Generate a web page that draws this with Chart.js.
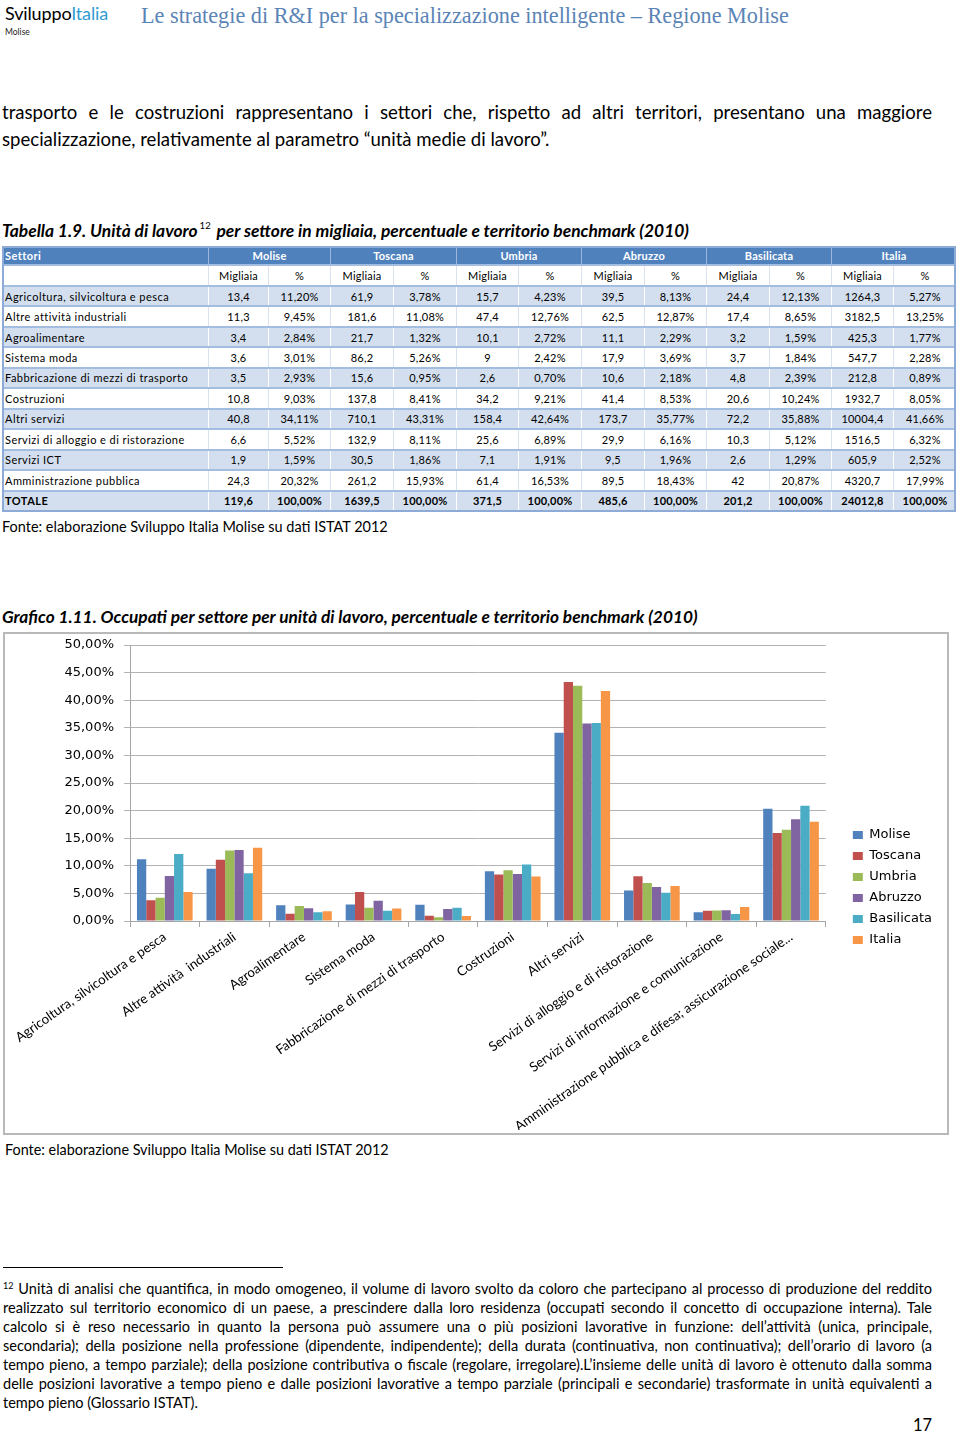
<!DOCTYPE html>
<html><head><meta charset="utf-8">
<script src="https://cdn.jsdelivr.net/npm/chart.js@4.4.1/dist/chart.umd.min.js"></script>
<style>
html,body{margin:0;padding:0;background:#fff;}
body{width:960px;height:1435px;position:relative;overflow:hidden;font-family:Lato,"Liberation Sans",sans-serif;color:#000;}
.abs{position:absolute;white-space:nowrap;}
.ib{display:inline-block;white-space:nowrap;}
.line{position:absolute;white-space:nowrap;overflow:hidden;}
.j{text-align:justify;text-align-last:justify;}
#tbl{position:absolute;left:2px;top:246px;width:954px;height:266px;font-family:Lato,sans-serif;font-size:11px;}
#tblBorder{position:absolute;left:2px;top:246px;width:954px;height:266px;box-sizing:border-box;border:2px solid #8eabd8;pointer-events:none;}
.row{position:absolute;left:0;width:954px;box-sizing:border-box;border-bottom:2px solid #a3bde0;}
.cell{position:absolute;top:0;height:100%;box-sizing:border-box;display:flex;align-items:center;justify-content:center;letter-spacing:0.2px;}
.cell.lft{justify-content:flex-start;padding-left:3px;letter-spacing:0.45px;}
.row.hd{background:#4f81bd;color:#fff;font-weight:bold;}
.row.hd .cell{border-left:1px solid #9db8e0;}
.row.bl{background:#d3dfee;}
.row.bl .cell{border-left:1px solid #fff;}
.row.wh{background:#fff;}
.row.wh .cell{border-left:1px solid #d9e2ee;}
.row.tot{font-weight:bold;}
.row .cell:first-child{border-left:none;}
#chartBox{position:absolute;left:3px;top:632px;width:946px;height:503px;box-sizing:border-box;border:2px solid #b9b9b9;}
#chart{position:absolute;left:4px;top:633px;}
</style>
</head>
<body>
<div class="abs" style="left:5px;top:3px;line-height:20px;"><span id="logo" class="ib" style="font-size:18px;"><span>Sviluppo</span><span style="color:#2f9bd2">Italia</span></span></div>
<div class="abs" style="left:5px;top:26px;line-height:12px;font-size:8.5px;color:#222;">Molise</div>
<div class="abs" style="left:141px;top:3px;line-height:26px;"><span id="hdrTitle" class="ib" style="font-family:'Liberation Serif',serif;font-size:21px;color:#5a84b5;">Le strategie di R&amp;I per la specializzazione intelligente – Regione Molise</span></div>

<div id="body1" class="line j" style="left:2px;top:100px;width:930px;line-height:24px;">trasporto e le costruzioni rappresentano i settori che, rispetto ad altri territori, presentano una maggiore</div>
<div class="abs" style="left:2px;top:127px;line-height:24px;"><span id="body2" class="ib" style="font-size:18px;">specializzazione, relativamente al parametro “unità medie di lavoro”.</span></div>

<div class="abs" style="left:2px;top:219px;line-height:24px;"><span id="tabTitle" class="ib" style="font-size:17px;font-weight:bold;font-style:italic;">Tabella 1.9. Unità di lavoro<span style="font-size:0.55em;font-style:normal;font-weight:normal;position:relative;top:-0.85em;margin:0 2px;">12</span> per settore in migliaia, percentuale e territorio benchmark (2010)</span></div>

<div id="tbl"></div>
<div id="tblBorder"></div>

<div class="abs" style="left:2px;top:515px;line-height:22px;"><span id="fonte1" class="ib" style="font-size:15px;">Fonte: elaborazione Sviluppo Italia Molise su dati ISTAT 2012</span></div>

<div class="abs" style="left:2px;top:605px;line-height:24px;"><span id="grafTitle" class="ib" style="font-size:17px;font-weight:bold;font-style:italic;">Grafico 1.11. Occupati per settore per unità di lavoro, percentuale e territorio benchmark (2010)</span></div>

<div id="chartBox"></div>
<canvas id="chart" width="944" height="501"></canvas>

<div class="abs" style="left:5px;top:1138px;line-height:22px;"><span id="fonte2" class="ib" style="font-size:15px;">Fonte: elaborazione Sviluppo Italia Molise su dati ISTAT 2012</span></div>

<div style="position:absolute;left:3px;top:1267px;width:280px;height:1px;background:#000;"></div>

<div id="fn" style="position:absolute;left:0;top:0;font-size:15px;">
<div class="line j fnl" style="left:3px;top:1279px;width:929px;line-height:20px;"><span style="font-size:0.62em;position:relative;top:-0.6em;">12</span> Unità di analisi che quantifica, in modo omogeneo, il volume di lavoro svolto da coloro che partecipano al processo di produzione del reddito</div>
<div class="line j fnl" style="left:3px;top:1298px;width:929px;line-height:20px;">realizzato sul territorio economico di un paese, a prescindere dalla loro residenza (occupati secondo il concetto di occupazione interna). Tale</div>
<div class="line j fnl" style="left:3px;top:1317px;width:929px;line-height:20px;">calcolo si è reso necessario in quanto la persona può assumere una o più posizioni lavorative in funzione: dell’attività (unica, principale,</div>
<div class="line j fnl" style="left:3px;top:1336px;width:929px;line-height:20px;">secondaria); della posizione nella professione (dipendente, indipendente); della durata (continuativa, non continuativa); dell’orario di lavoro (a</div>
<div class="line j fnl" style="left:3px;top:1355px;width:929px;line-height:20px;">tempo pieno, a tempo parziale); della posizione contributiva o fiscale (regolare, irregolare).L’insieme delle unità di lavoro è ottenuto dalla somma</div>
<div class="line j fnl" style="left:3px;top:1374px;width:929px;line-height:20px;">delle posizioni lavorative a tempo pieno e dalle posizioni lavorative a tempo parziale (principali e secondarie) trasformate in unità equivalenti a</div>
<div class="abs" style="left:3px;top:1393px;line-height:20px;"><span id="fnLast" class="ib">tempo pieno (Glossario ISTAT).</span></div>
</div>

<div class="abs" style="left:913px;top:1413px;line-height:24px;"><span id="pageNo" class="ib" style="font-size:18px;">17</span></div>

<script>
// ---------- DATA ----------
const tableRows = ["Agricoltura, silvicoltura e pesca","Altre attività industriali","Agroalimentare","Sistema moda","Fabbricazione di mezzi di trasporto","Costruzioni","Altri servizi","Servizi di alloggio e di ristorazione","Servizi ICT","Amministrazione pubblica"];
const categories = ["Agricoltura, silvicoltura e pesca","Altre attività  industriali","Agroalimentare","Sistema moda","Fabbricazione di mezzi di trasporto","Costruzioni","Altri servizi","Servizi di alloggio e di ristorazione","Servizi di informazione e comunicazione","Amministrazione pubblica e difesa; assicurazione sociale..."];
const regions = ["Molise","Toscana","Umbria","Abruzzo","Basilicata","Italia"];

const moliseK     = [13.4, 11.3, 3.4, 3.6, 3.5, 10.8, 40.8, 6.6, 1.9, 24.3];
const toscanaK    = [61.9, 181.6, 21.7, 86.2, 15.6, 137.8, 710.1, 132.9, 30.5, 261.2];
const umbriaK     = [15.7, 47.4, 10.1, 9, 2.6, 34.2, 158.4, 25.6, 7.1, 61.4];
const abruzzoK    = [39.5, 62.5, 11.1, 17.9, 10.6, 41.4, 173.7, 29.9, 9.5, 89.5];
const basilicataK = [24.4, 17.4, 3.2, 3.7, 4.8, 20.6, 72.2, 10.3, 2.6, 42];
const italiaK     = [1264.3, 3182.5, 425.3, 547.7, 212.8, 1932.7, 10004.4, 1516.5, 605.9, 4320.7];

const molisePct     = [11.20, 9.45, 2.84, 3.01, 2.93, 9.03, 34.11, 5.52, 1.59, 20.32];
const toscanaPct    = [3.78, 11.08, 1.32, 5.26, 0.95, 8.41, 43.31, 8.11, 1.86, 15.93];
const umbriaPct     = [4.23, 12.76, 2.72, 2.42, 0.70, 9.21, 42.64, 6.89, 1.91, 16.53];
const abruzzoPct    = [8.13, 12.87, 2.29, 3.69, 2.18, 8.53, 35.77, 6.16, 1.96, 18.43];
const basilicataPct = [12.13, 8.65, 1.59, 1.84, 2.39, 10.24, 35.88, 5.12, 1.29, 20.87];
const italiaPct     = [5.27, 13.25, 1.77, 2.28, 0.89, 8.05, 41.66, 6.32, 2.52, 17.99];

const totalK   = [119.6, 1639.5, 371.5, 485.6, 201.2, 24012.8];
const totalPct = [100, 100, 100, 100, 100, 100];

const yTickValues = [0, 5, 10, 15, 20, 25, 30, 35, 40, 45, 50];

// ---------- STYLE ----------
const seriesColors = ["#4F81BD","#C0504D","#9BBB59","#8064A2","#4BACC6","#F79646"];
const colWidths = [206, 60, 62, 63, 63, 62, 63, 63, 62, 63, 62, 62, 63];

// ---------- TABLE ----------
const kSeries = [moliseK, toscanaK, umbriaK, abruzzoK, basilicataK, italiaK];
const pSeries = [molisePct, toscanaPct, umbriaPct, abruzzoPct, basilicataPct, italiaPct];
const fmtK = v => String(v).replace('.', ',');
const fmtP = v => v.toFixed(2).replace('.', ',') + '%';
const tbl = document.getElementById('tbl');
const rowH = 266 / 13;
function addRow(r, cells, cls) {
  const row = document.createElement('div');
  row.className = 'row ' + cls;
  row.style.top = (r * rowH) + 'px';
  row.style.height = rowH + 'px';
  let x = 0;
  cells.forEach(c => {
    const d = document.createElement('div');
    d.className = 'cell' + (c.cls ? ' ' + c.cls : '');
    d.style.left = x + 'px';
    d.style.width = c.w + 'px';
    d.textContent = c.t;
    row.appendChild(d);
    x += c.w;
  });
  tbl.appendChild(row);
}
{
  const hdr = [{t:'Settori', w:colWidths[0], cls:'lft'}];
  regions.forEach((r, i) => hdr.push({t:r, w:colWidths[1+2*i] + colWidths[2+2*i]}));
  addRow(0, hdr, 'hd');
  const sub = [{t:'', w:colWidths[0]}];
  regions.forEach((r, i) => { sub.push({t:'Migliaia', w:colWidths[1+2*i]}); sub.push({t:'%', w:colWidths[2+2*i]}); });
  addRow(1, sub, 'wh');
  tableRows.forEach((name, ri) => {
    const cells = [{t:name, w:colWidths[0], cls:'lft'}];
    regions.forEach((r, i) => { cells.push({t:fmtK(kSeries[i][ri]), w:colWidths[1+2*i]}); cells.push({t:fmtP(pSeries[i][ri]), w:colWidths[2+2*i]}); });
    addRow(2 + ri, cells, ri % 2 === 0 ? 'bl' : 'wh');
  });
  const tot = [{t:'TOTALE', w:colWidths[0], cls:'lft'}];
  regions.forEach((r, i) => { tot.push({t:fmtK(totalK[i]), w:colWidths[1+2*i]}); tot.push({t:fmtP(totalPct[i]), w:colWidths[2+2*i]}); });
  addRow(12, tot, 'bl tot');
}

// ---------- TEXT FITTING ----------
function fitFont(el, target) {
  const fs = parseFloat(getComputedStyle(el).fontSize);
  const w = el.getBoundingClientRect().width;
  const nfs = fs * target / w;
  el.style.fontSize = nfs + 'px';
  return nfs;
}
function fitLS(el, target) {
  const w = el.getBoundingClientRect().width;
  const n = el.textContent.length;
  el.style.letterSpacing = ((target - w) / n) + 'px';
}
function squeeze(el) {
  let ls = 0;
  while (el.scrollWidth > el.clientWidth + 0.5 && ls > -1.5) { ls -= 0.05; el.style.letterSpacing = ls + 'px'; }
}
fitLS(document.getElementById('logo'), 103);
fitFont(document.getElementById('hdrTitle'), 648);
const bfs = fitFont(document.getElementById('body2'), 548);
const b1 = document.getElementById('body1'); b1.style.fontSize = bfs + 'px'; squeeze(b1);
fitFont(document.getElementById('tabTitle'), 688);
fitFont(document.getElementById('fonte1'), 386);
fitFont(document.getElementById('grafTitle'), 696);
fitFont(document.getElementById('fonte2'), 384);
fitFont(document.getElementById('pageNo'), 19);
{
  const last = document.getElementById('fnLast');
  const ffs = fitFont(last, 195);
  document.getElementById('fn').style.fontSize = ffs + 'px';
  last.style.fontSize = '';
  document.querySelectorAll('.fnl').forEach(squeeze);
}

// ---------- CHART ----------
const legendGap = {
  id: 'legendGap',
  beforeInit(chart) {
    Chart.layouts.addBox(chart, {
      position: 'right', weight: 500, fullSize: false, options: {},
      top: 0, left: 0, right: 0, bottom: 0, width: 0, height: 0,
      isHorizontal() { return false; },
      update(maxWidth, maxHeight) { this.width = 19; this.height = maxHeight; },
      draw() {}
    });
  }
};
const pctSeries = [molisePct, toscanaPct, umbriaPct, abruzzoPct, basilicataPct, italiaPct];
new Chart(document.getElementById('chart'), {
  type: 'bar',
  data: {
    labels: categories,
    datasets: pctSeries.map((d, i) => ({
      label: regions[i], data: d, backgroundColor: seriesColors[i], borderWidth: 0,
      categoryPercentage: 0.8, barPercentage: 1.0
    }))
  },
  options: {
    responsive: false, animation: false,
    layout: { padding: { left: 0, top: 12, right: 6, bottom: 4 } },
    plugins: {
      tooltip: { enabled: false },
      legend: {
        position: 'right', align: 'center',
        labels: { boxWidth: 10, boxHeight: 8, padding: 8, color: '#000', font: { family: 'DejaVu Sans', size: 13 } }
      }
    },
    scales: {
      x: {
        grid: { display: true, drawOnChartArea: false, color: '#a6a6a6', tickLength: 6 },
        border: { color: '#a6a6a6' },
        ticks: { minRotation: 35, maxRotation: 35, autoSkip: false, color: '#000', padding: 2, font: { family: 'Lato', size: 13.3 } },
        afterFit(s) { s.height = 209; }
      },
      y: {
        min: 0, max: 50,
        afterBuildTicks(s) { s.ticks = yTickValues.map(v => ({ value: v })); },
        ticks: { color: '#000', padding: 10, font: { family: 'DejaVu Sans', size: 13 }, callback: v => v.toFixed(2).replace('.', ',') + '%' },
        grid: { color: '#b3b3b3', tickLength: 6 },
        border: { color: '#a6a6a6' },
        afterFit(s) { s.width = 126; s.paddingTop = 0; s.paddingBottom = 0; }
      }
    }
  },
  plugins: [legendGap]
});
</script>
</body></html>
